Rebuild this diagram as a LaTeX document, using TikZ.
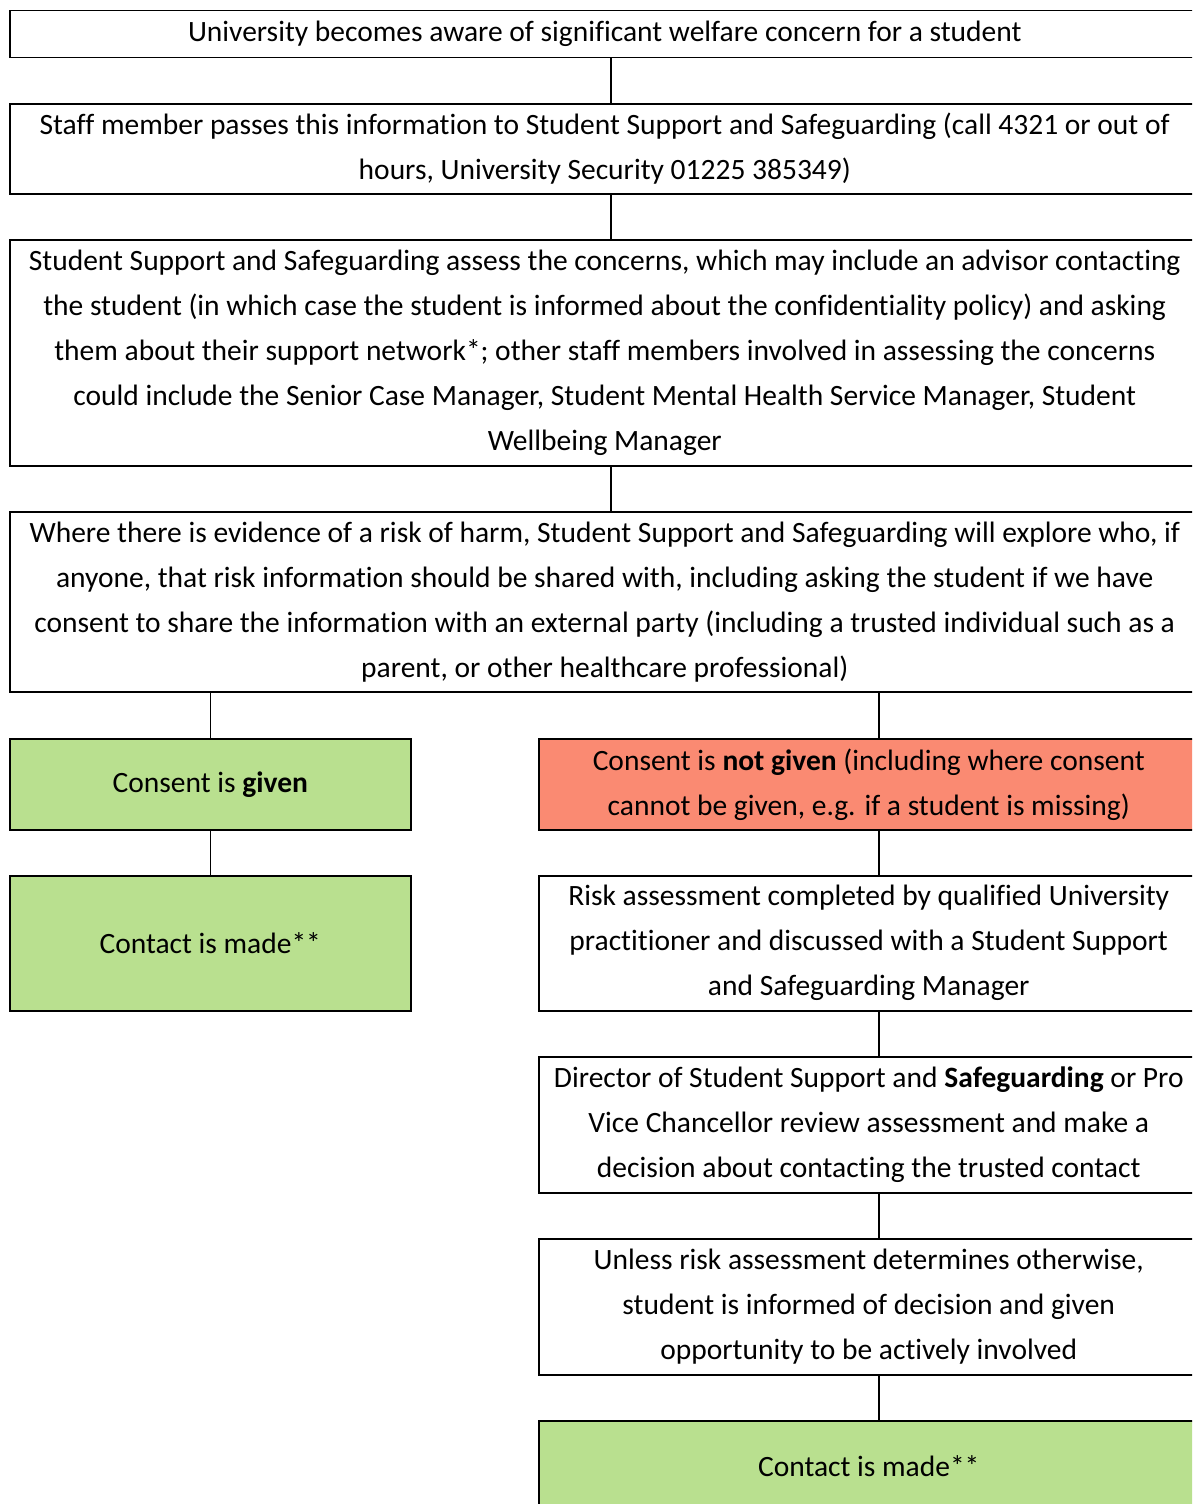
\documentclass[tikz,border=0pt]{standalone}
\usepackage{fontspec}
\setmainfont{Carlito}[Ligatures=CommonOff]
\usetikzlibrary{positioning}
\definecolor{okgreen}{HTML}{B9E08F}
\definecolor{nored}{HTML}{FA8A72}
\tikzset{%
  wbox/.style={draw,line width=1.5pt,inner sep=0,align=center,minimum width=1190pt,font=\fontsize{29.5}{45}\selectfont},
  cbox/.style={wbox,minimum width=660pt},
  gbox/.style={wbox,fill=okgreen,minimum width=401pt},
  rbox/.style={cbox,fill=nored},
  link/.style={draw,line width=1.5pt}
}
\begin{document}
\begin{tikzpicture}[x=1pt,y=-1pt,node distance=44.5pt]
    \useasboundingbox (0,0) rectangle (1192,1504);
    \clip (0,0) rectangle (1192,1504);
    \path
      (9,10) node (aware)[wbox,anchor=north west,minimum height=47pt]{University becomes aware of significant welfare concern for a student};
    \node (staff)[wbox,below=of aware,minimum height=90pt]{Staff member passes this information to Student Support and Safeguarding (call 4321 or out of\\ hours, University Security 01225 385349)};
    \node (assess)[wbox,below=of staff,minimum height=226pt]{Student Support and Safeguarding assess the concerns, which may include an advisor contacting\\ the student (in which case the student is informed about the confidentiality policy) and asking\\ them about their support network*; other staff members involved in assessing the concerns\\ could include the Senior Case Manager, Student Mental Health Service Manager, Student\\ Wellbeing Manager};
    \node (explore)[wbox,below=of assess,minimum height=180pt]{Where there is evidence of a risk of harm, Student Support and Safeguarding will explore who, if\\ anyone, that risk information should be shared with, including asking the student if we have\\ consent to share the information with an external party (including a trusted individual such as a\\ parent, or other healthcare professional)};
    % the two branches
    \path
      (9,738) node (given)[gbox,anchor=north west,minimum height=91pt]{Consent is \textbf{given}}
      (538,738) node (notgiven)[rbox,anchor=north west,minimum height=91pt]{Consent is \textbf{not given} (including where consent\\ cannot be given, e.g. if a student is missing)};
    \node (madel)[gbox,below=of given,minimum height=135pt]{Contact is made**};
    \node (risk)[cbox,below=of notgiven,minimum height=135pt]{Risk assessment completed by qualified University\\ practitioner and discussed with a Student Support\\ and Safeguarding Manager};
    \node (review)[cbox,below=of risk,minimum height=136pt]{Director of Student Support and \textbf{Safeguarding} or Pro\\ Vice Chancellor review assessment and make a\\ decision about contacting the trusted contact};
    \node (inform)[cbox,below=of review,minimum height=136pt]{Unless risk assessment determines otherwise,\\ student is informed of decision and given\\ opportunity to be actively involved};
    \node (mader)[gbox,below=of inform,minimum width=660pt,minimum height=91pt]{Contact is made**};
    % connectors
    \draw[link] ([xshift=6pt]aware.south) -- ([xshift=6pt]staff.north);
    \draw[link] ([xshift=6pt]staff.south) -- ([xshift=6pt]assess.north);
    \draw[link] ([xshift=6pt]assess.south) -- ([xshift=6pt]explore.north);
    \coordinate (rj) at ([xshift=10pt]notgiven.north);
    \draw[link] (given.north) -- (given.north |- explore.south);
    \draw[link] (rj) -- (rj |- explore.south);
    \draw[link] (given.south) -- (madel.north);
    \draw[link] ([xshift=10pt]notgiven.south) -- ([xshift=10pt]risk.north);
    \draw[link] ([xshift=10pt]risk.south) -- ([xshift=10pt]review.north);
    \draw[link] ([xshift=10pt]review.south) -- ([xshift=10pt]inform.north);
    \draw[link] ([xshift=10pt]inform.south) -- ([xshift=10pt]mader.north);
\end{tikzpicture}
\end{document}
